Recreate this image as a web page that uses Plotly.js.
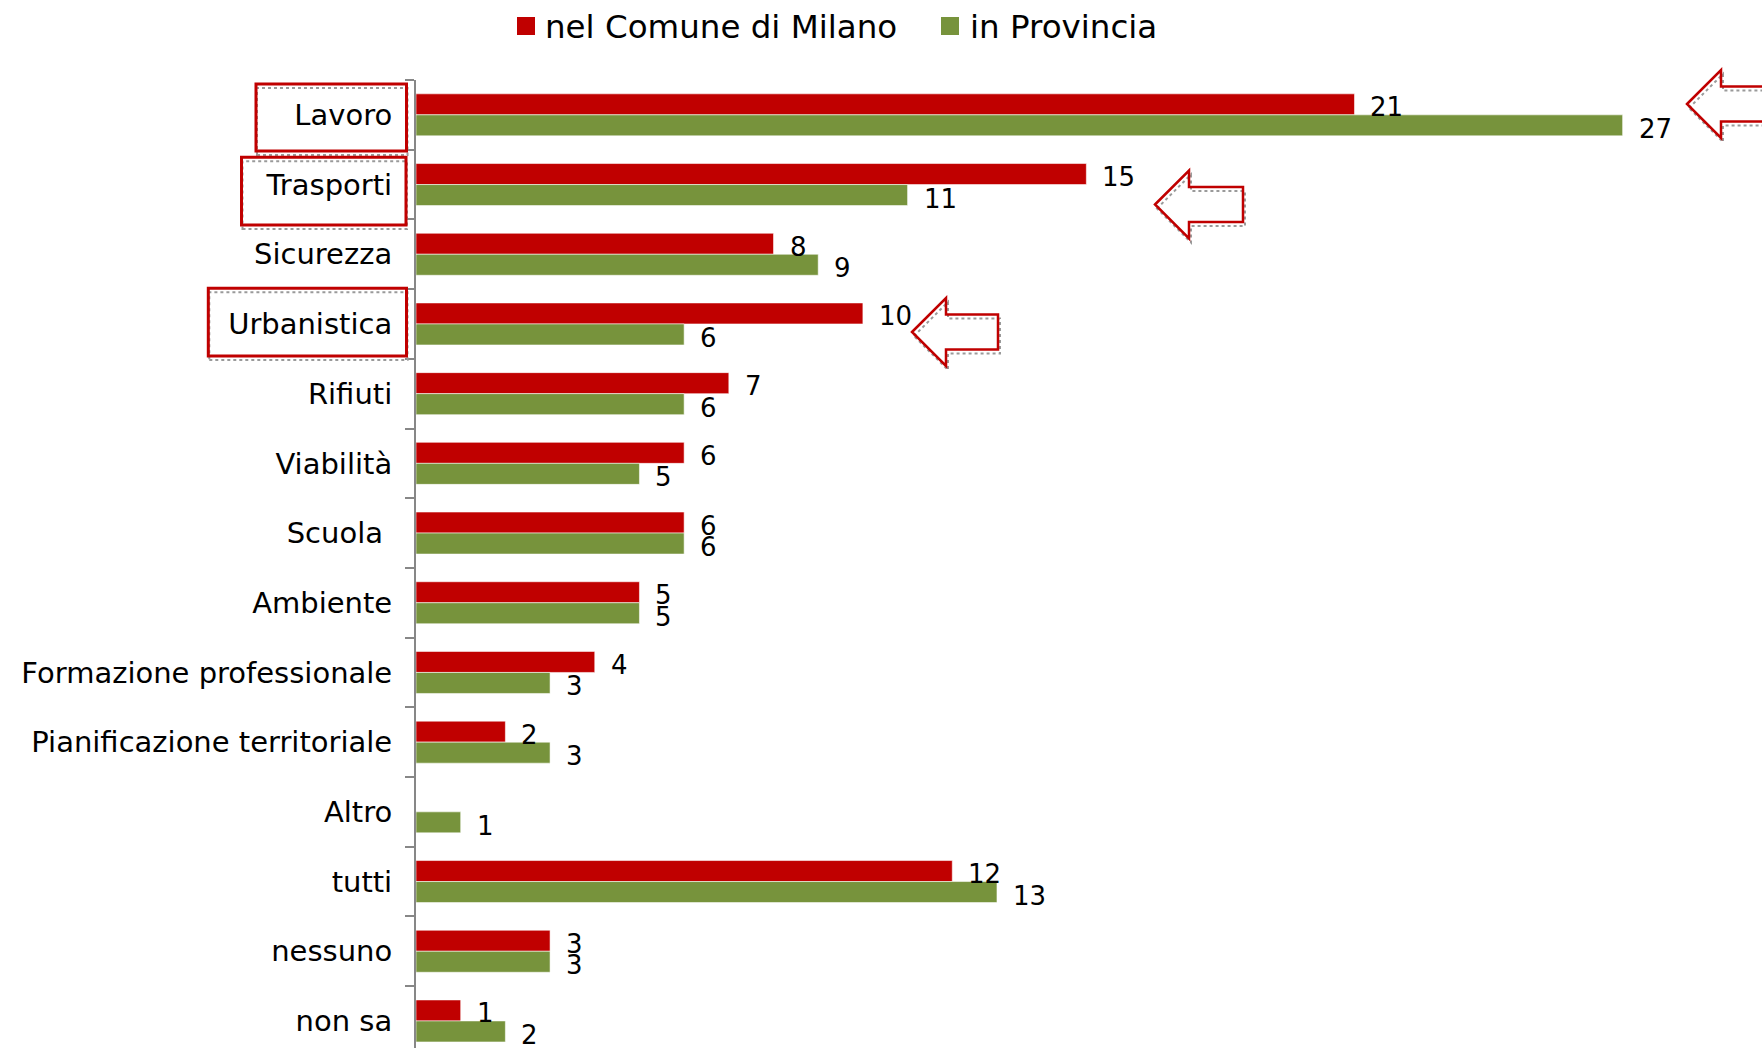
<!DOCTYPE html>
<html>
<head>
<meta charset="utf-8">
<script src="https://cdn.plot.ly/plotly-3.0.1.min.js"></script>
<style>html,body{margin:0;padding:0;background:#fff;}#chart{width:1762px;height:1048px;}</style>
</head>
<body>
<div id="chart"></div>
<script>
// ---- data ----
const categories = ["Lavoro", "Trasporti", "Sicurezza", "Urbanistica", "Rifiuti", "Viabilità",
  "Scuola\u00a0", "Ambiente", "Formazione professionale", "Pianificazione territoriale",
  "Altro", "tutti", "nessuno", "non sa"];
const milano    = [21, 15, 8, 10, 7, 6, 6, 5, 4, 2, null, 12, 3, 1];
const provincia = [27, 11, 9, 6, 6, 5, 6, 5, 3, 3, 1, 13, 3, 2];
const seriesNames = ["nel Comune di Milano", "in Provincia"];

// ---- layout geometry ----
const W = 1762, H = 1048;
const M = {l: 416, r: 0, t: 80, b: 0};
const PW = W - M.l - M.r, PH = H - M.t - M.b;
const pxPerUnit = 44.69;
const catPx = 69.7;
const RED = "#C00000", GREEN = "#77933C", FONT = "DejaVu Sans, Verdana, sans-serif";

const px = x => (x - M.l) / PW;
const py = y => 1 - (y - M.t) / PH;

const traces = [
  {type: "bar", orientation: "h", name: seriesNames[0], y: categories, x: milano,
   marker: {color: RED, line: {color: "rgba(255,255,255,0.55)", width: 1}}, hoverinfo: "skip"},
  {type: "bar", orientation: "h", name: seriesNames[1], y: categories, x: provincia,
   marker: {color: GREEN, line: {color: "rgba(255,255,255,0.55)", width: 1}}, hoverinfo: "skip"}
];

const annotations = [];
categories.forEach((c, i) => {
  if (milano[i] != null) annotations.push({x: milano[i], y: i, xref: "x", yref: "y", text: String(milano[i]),
    showarrow: false, xanchor: "left", yanchor: "middle", xshift: 15, yshift: 7.5, borderpad: 0,
    font: {family: FONT, size: 26, color: "#000"}});
  if (provincia[i] != null) annotations.push({x: provincia[i], y: i, xref: "x", yref: "y", text: String(provincia[i]),
    showarrow: false, xanchor: "left", yanchor: "middle", xshift: 15, yshift: -14, borderpad: 0,
    font: {family: FONT, size: 26, color: "#000"}});
});

// custom legend
const legendItems = [
  {sx: 517, tx: 545, color: RED, label: seriesNames[0]},
  {sx: 941, tx: 970, color: GREEN, label: seriesNames[1]}
];
const shapes = [];
legendItems.forEach(it => {
  shapes.push({type: "rect", xref: "paper", yref: "paper", x0: px(it.sx), x1: px(it.sx + 18),
    y0: py(35), y1: py(17), fillcolor: it.color, line: {width: 0}});
  annotations.push({xref: "paper", yref: "paper", x: px(it.tx), y: py(27), text: it.label,
    showarrow: false, xanchor: "left", yanchor: "middle", xshift: -2,
    font: {family: FONT, size: 32.5, color: "#000"}});
});

// highlight boxes around labels
const boxes = [
  {x0: 256, x1: 406.5, y0: 84, y1: 151},
  {x0: 241.5, x1: 406, y0: 157.3, y1: 225},
  {x0: 208.3, x1: 406.5, y0: 288.3, y1: 356}
];
boxes.forEach(b => {
  shapes.push({type: "rect", xref: "paper", yref: "paper", x0: px(b.x0 + 1), x1: px(b.x1 + 1),
    y0: py(b.y1 + 4), y1: py(b.y0 + 4), line: {color: "#9a9a9a", width: 2, dash: "dot"}});
  shapes.push({type: "rect", xref: "paper", yref: "paper", x0: px(b.x0), x1: px(b.x1),
    y0: py(b.y1), y1: py(b.y0), line: {color: RED, width: 3}});
});

// outlined arrows pointing left
function arrowPath(tx, ty, len, dx, dy) {
  const pts = [[tx, ty], [tx + 34, ty - 34], [tx + 34, ty - 17.5], [tx + len, ty - 17.5],
    [tx + len, ty + 17.5], [tx + 34, ty + 17.5], [tx + 34, ty + 34]];
  return "M" + pts.map(p => px(p[0] + dx) + "," + py(p[1] + dy)).join("L") + "Z";
}
const arrows = [
  {tx: 1687, ty: 104, len: 140},
  {tx: 1155, ty: 204.5, len: 88},
  {tx: 912, ty: 332, len: 86}
];
arrows.forEach(a => {
  shapes.push({type: "path", xref: "paper", yref: "paper", path: arrowPath(a.tx, a.ty, a.len, 2, 4),
    line: {color: "#9a9a9a", width: 2, dash: "dot"}});
  shapes.push({type: "path", xref: "paper", yref: "paper", path: arrowPath(a.tx, a.ty, a.len, 0, 0),
    line: {color: RED, width: 2.5}});
});

const layout = {
  width: W, height: H,
  margin: M,
  paper_bgcolor: "#fff", plot_bgcolor: "#fff",
  barmode: "group", bargap: 0.397, bargroupgap: 0,
  showlegend: false,
  hovermode: false,
  font: {family: FONT, color: "#000"},
  xaxis: {range: [0, PW / pxPerUnit], visible: false, fixedrange: true},
  yaxis: {type: "category", categoryorder: "array", categoryarray: categories,
    range: [-0.5 + PH / catPx, -0.5],
    showline: true, linecolor: "#878787", linewidth: 2,
    ticks: "outside", ticklen: 9, tickwidth: 2, tickcolor: "#878787", tickson: "boundaries",
    showgrid: false, zeroline: false, ticklabelstandoff: 16,
    tickfont: {family: FONT, size: 29, color: "#000"}, fixedrange: true},
  shapes: shapes,
  annotations: annotations
};

Plotly.newPlot("chart", traces, layout, {displayModeBar: false, staticPlot: true});
</script>
</body>
</html>
